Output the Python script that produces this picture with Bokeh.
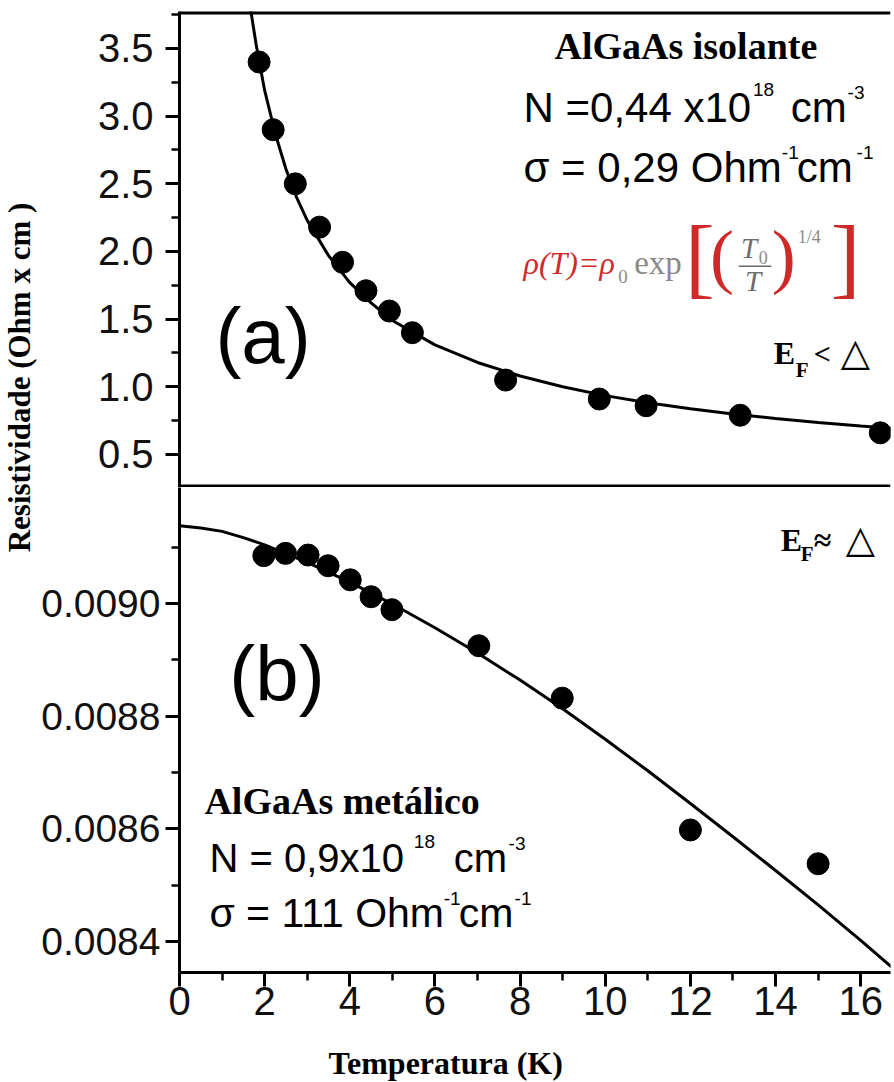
import math
from bokeh.plotting import figure
from bokeh.layouts import row, column
from bokeh.models import Range1d, FixedTicker, Label, Span
from bokeh.core.properties import value
from bokeh.embed import file_html
from bokeh.resources import INLINE

# ---------------- data ----------------
# panel (a): insulating AlGaAs
T_a = [1.87, 2.20, 2.72, 3.29, 3.83, 4.38, 4.93, 5.47, 7.66, 9.86, 10.96, 13.17, 16.46]
rho_a = [3.40, 2.90, 2.50, 2.18, 1.92, 1.71, 1.56, 1.40, 1.05, 0.91, 0.86, 0.79, 0.66]
fit_T_a = [1.60, 1.68, 1.8, 2.0, 2.25, 2.5, 2.75, 3.0, 3.5, 4.0, 4.5, 5.0, 6.0, 7.0, 8.0,
           9.0, 10.0, 11.0, 12.0, 13.0, 14.0, 15.0, 16.0, 16.72]
fit_rho_a = [3.95, 3.77, 3.53, 3.19, 2.87, 2.61, 2.40, 2.23, 1.97, 1.77, 1.62, 1.49, 1.31, 1.18, 1.08,
             1.00, 0.935, 0.882, 0.838, 0.799, 0.766, 0.736, 0.710, 0.693]

# panel (b): metallic AlGaAs
T_b = [1.98, 2.49, 3.02, 3.49, 4.01, 4.50, 4.99, 7.03, 8.99, 12.0, 15.0]
rho_b = [0.009085, 0.009089, 0.009086, 0.009067, 0.009042, 0.009012, 0.008989,
         0.008925, 0.008832, 0.008598, 0.008538]
fit_T_b = [0, 0.5, 1, 1.5, 2, 3, 4, 5, 6, 7, 8, 9, 10, 11, 12, 13, 14, 15, 16, 17]
fit_rho_b = [0.009138, 0.009134, 0.009128, 0.009117, 0.009104, 0.009073, 0.009038, 0.008999,
             0.008957, 0.008912, 0.008864, 0.008813, 0.008759, 0.008703, 0.008645, 0.008586,
             0.008526, 0.008465, 0.008402, 0.008337]

# ticks
x_ticks = [0, 2, 4, 6, 8, 10, 12, 14, 16]
x_minor = [1, 3, 5, 7, 9, 11, 13, 15]
ya_ticks = [0.5, 1.0, 1.5, 2.0, 2.5, 3.0, 3.5]
ya_labels = ["0.5", "1.0", "1.5", "2.0", "2.5", "3.0", "3.5"]
ya_minor = [0.25, 0.75, 1.25, 1.75, 2.25, 2.75, 3.25, 3.75]
yb_ticks = [0.0084, 0.0086, 0.0088, 0.0090]
yb_labels = ["0.0084", "0.0086", "0.0088", "0.0090"]
yb_minor = [0.0085, 0.0087, 0.0089, 0.0091]

y_title = "Resistividade (Ohm x cm )"
x_title = "Temperatura (K)"

# ---------------- layout geometry (page pixels) ----------------
TOTAL_W, TOTAL_H = 892, 1081
LEFT_W = 38                       # narrow strip holding the vertical title
FRAME_L, FRAME_W = 177, 713       # shared x frame
A_TOP, SEP, B_BOT = 11, 487, 972  # frame edges
B_H = 1042 - SEP                  # bottom panel figure height (frame + x axis)
T_H = TOTAL_H - SEP - B_H         # strip for the x title
X_END = 16.70
YA = (0.2561, 3.7734)
YB = (0.00834497, 0.0092059)

SANS = "Liberation Sans"
SERIF = "Liberation Serif"
RED = "#cf2a2a"
GRAY = "#8a8a8a"
DGRAY = "#6d6d6d"

PW = TOTAL_W - LEFT_W
ML = FRAME_L - LEFT_W
MR = PW - ML - FRAME_W


def clean(f):
    f.xgrid.visible = False
    f.ygrid.visible = False
    f.outline_line_color = None
    f.background_fill_color = "white"
    f.border_fill_color = "white"


def style_axis(ax, standoff, size="40px"):
    ax.axis_line_width = 3
    ax.axis_line_color = "black"
    ax.major_tick_line_width = 3
    ax.minor_tick_line_width = 2.5
    ax.major_tick_out = 14
    ax.major_tick_in = 0
    ax.minor_tick_out = 8
    ax.minor_tick_in = 0
    ax.major_label_text_font = SANS
    ax.major_label_text_font_size = size
    ax.major_label_text_color = "#111111"
    ax.major_label_standoff = standoff


# ---- top panel (a)
pa = figure(width=PW, height=SEP, x_range=Range1d(0, X_END), y_range=Range1d(*YA),
            output_backend="svg", toolbar_location=None, x_axis_location=None,
            min_border_left=ML, min_border_right=MR, min_border_top=A_TOP, min_border_bottom=0)
# ---- bottom panel (b)
pb = figure(width=PW, height=B_H, x_range=pa.x_range, y_range=Range1d(*YB),
            output_backend="svg", toolbar_location=None,
            min_border_left=ML, min_border_right=MR, min_border_top=0,
            min_border_bottom=B_H - (B_BOT - SEP))
clean(pa)
clean(pb)

ax = pa.yaxis[0]
ax.ticker = FixedTicker(ticks=ya_ticks, minor_ticks=ya_minor)
ax.major_label_overrides = dict(zip(ya_ticks, ya_labels))
style_axis(ax, 12)

bx = pb.yaxis[0]
bx.ticker = FixedTicker(ticks=yb_ticks, minor_ticks=yb_minor)
bx.major_label_overrides = dict(zip(yb_ticks, yb_labels))
style_axis(bx, 5, "39px")

xx = pb.xaxis[0]
xx.ticker = FixedTicker(ticks=x_ticks, minor_ticks=x_minor)
style_axis(xx, 0)

# borders: top edge and the separator between the panels
pa.add_layout(Span(location=YA[1], dimension="width", line_width=6, line_color="black"))
pa.add_layout(Span(location=YA[0], dimension="width", line_width=6, line_color="black"))

# ---------------- data glyphs ----------------
pa.line(fit_T_a, fit_rho_a, line_width=3, line_color="black")
pa.scatter(T_a, rho_a, size=22, color="black")
pb.line(fit_T_b, fit_rho_b, line_width=3, line_color="black")
pb.scatter(T_b, rho_b, size=22, color="black")


# ---------------- annotation helpers ----------------
def fx(px):
    return (px - FRAME_L) * X_END / FRAME_W


def fy_a(py):
    return YA[1] - (py - A_TOP) * (YA[1] - YA[0]) / (SEP - A_TOP)


def fy_b(py):
    return YB[1] - (py - SEP) * (YB[1] - YB[0]) / (B_BOT - SEP)


def lab(fig, fy, text, px, py, size, font=SANS, style="normal", color="black"):
    # py = wanted baseline in page pixels; Bokeh draws the label a little lower
    fig.add_layout(Label(x=fx(px), y=fy(py - 0.38 * size), text=text, text_font=font,
                         text_font_size=f"{size}px", text_font_style=style,
                         text_color=color, text_align="left", text_baseline="alphabetic"))


# panel (a) texts
lab(pa, fy_a, "AlGaAs isolante", 553, 60, 38, font=SERIF, style="bold")
lab(pa, fy_a, "N =0,44 x10", 522, 123, 42)
lab(pa, fy_a, "18", 752, 96, 19)
lab(pa, fy_a, "cm", 790, 123, 42)
lab(pa, fy_a, "-3", 847, 99, 19)
lab(pa, fy_a, "\u03c3 = 0,29 Ohm", 522, 183, 42)
lab(pa, fy_a, "-1", 781, 159, 19)
lab(pa, fy_a, "cm", 796, 183, 42)
lab(pa, fy_a, "-1", 856, 159, 19)

lab(pa, fy_a, "\u03c1(T)=\u03c1", 522, 275, 32, font=SERIF, style="italic", color=RED)
lab(pa, fy_a, "0", 617, 283, 19, font=SERIF, color=GRAY)
lab(pa, fy_a, "exp", 633, 275, 33, font=SERIF, color=GRAY)
lab(pa, fy_a, "[", 684, 290, 89, font=SERIF, color=RED)
lab(pa, fy_a, "(", 709, 283, 72, font=SERIF, color=RED)
lab(pa, fy_a, "T", 740, 259, 29, font=SERIF, style="italic", color=DGRAY)
lab(pa, fy_a, "0", 758, 264, 18, font=SERIF, color=GRAY)
lab(pa, fy_a, "\u2014", 738, 275, 32, font=SERIF, color=DGRAY)
lab(pa, fy_a, "T", 744, 292, 29, font=SERIF, style="italic", color=DGRAY)
lab(pa, fy_a, ")", 771, 283, 72, font=SERIF, color=RED)
lab(pa, fy_a, "1/4", 797, 243, 18, font=SERIF, color=GRAY)
lab(pa, fy_a, "]", 830, 290, 89, font=SERIF, color=RED)

lab(pa, fy_a, "(a)", 213, 365, 78)
lab(pa, fy_a, "E", 773, 365, 32, font=SERIF, style="bold")
lab(pa, fy_a, "F", 795, 377, 21, font=SERIF, style="bold")
lab(pa, fy_a, "<", 813, 364, 30, font=SERIF, style="bold")
lab(pa, fy_a, "\u25b3", 840, 366, 38, font="DejaVu Sans")

# panel (b) texts
lab(pb, fy_b, "E", 780, 552, 32, font=SERIF, style="bold")
lab(pb, fy_b, "F", 800, 561, 21, font=SERIF, style="bold")
lab(pb, fy_b, "\u2248", 813, 552, 32, font=SERIF, style="bold")
lab(pb, fy_b, "\u25b3", 845, 553, 38, font="DejaVu Sans")
lab(pb, fy_b, "(b)", 227, 703, 78)

lab(pb, fy_b, "AlGaAs met\u00e1lico", 202, 815, 38, font=SERIF, style="bold")
lab(pb, fy_b, "N = 0,9x10", 207, 873, 40)
lab(pb, fy_b, "18", 412, 848, 19)
lab(pb, fy_b, "cm", 452, 873, 40)
lab(pb, fy_b, "-3", 507, 850, 19)
lab(pb, fy_b, "\u03c3 = 111 Ohm", 207, 928, 41)
lab(pb, fy_b, "-1", 442, 905, 19)
lab(pb, fy_b, "cm", 457, 928, 41)
lab(pb, fy_b, "-1", 513, 905, 19)

# ---- strip below the panels with the x axis title
pt = figure(width=PW, height=T_H, x_range=pa.x_range, y_range=Range1d(T_H, 0),
            output_backend="svg", toolbar_location=None, x_axis_location=None, y_axis_location=None,
            min_border_left=ML, min_border_right=MR, min_border_top=0, min_border_bottom=0)
clean(pt)
pt.text(x=[fx(444)], y=[1062 - (TOTAL_H - T_H)], text=[x_title], text_align="center",
        text_baseline="middle", text_font=value(SERIF), text_font_style="bold",
        text_font_size="32px", text_color="black")

# ---- narrow strip with the vertical axis title (spans both panels)
pl = figure(width=LEFT_W, height=TOTAL_H, x_range=Range1d(0, LEFT_W), y_range=Range1d(TOTAL_H, 0),
            output_backend="svg", toolbar_location=None, x_axis_location=None, y_axis_location=None,
            min_border=0, min_border_left=0, min_border_right=0, min_border_top=0, min_border_bottom=0)
clean(pl)
pl.text(x=[LEFT_W / 2], y=[377], text=[y_title], angle=math.pi / 2, text_align="center",
        text_baseline="middle", text_font=value(SERIF), text_font_style="bold",
        text_font_size="31px", text_color="black")

layout = row(pl, column(pa, pb, pt, spacing=0), spacing=0)
open("out.html", "w").write(file_html(layout, INLINE))
